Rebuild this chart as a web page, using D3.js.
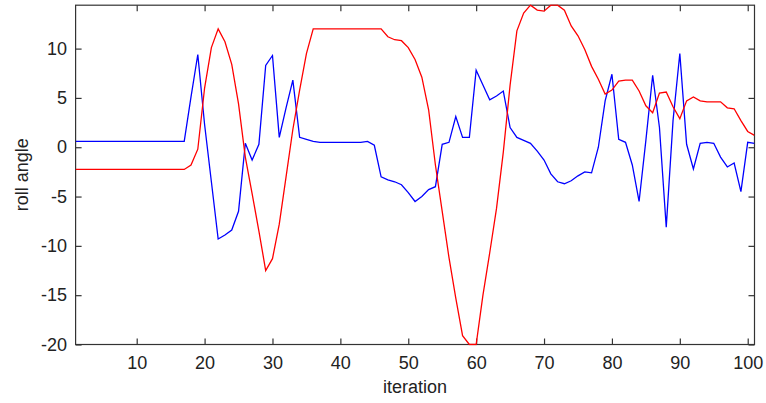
<!DOCTYPE html>
<html>
<head>
<meta charset="utf-8">
<script src="https://cdn.jsdelivr.net/npm/d3@7"></script>
<style>
  html, body { margin: 0; padding: 0; background: #fff; }
  svg { display: block; }
  .axis text { font-family: "Liberation Sans", Arial, sans-serif; font-size: 18px; fill: #222; }
  .axis path { display: none; }
  .axis line { stroke: #333; stroke-width: 1.2; }
  .lbl { font-family: "Liberation Sans", Arial, sans-serif; font-size: 18px; fill: #222; }
</style>
</head>
<body>
<svg id="chart" width="766" height="403"></svg>
<script>
// iteration 1..101
const iterations = d3.range(1, 102);

// blue series
const blueRoll = [
  0.6, 0.6, 0.6, 0.6, 0.6, 0.6, 0.6, 0.6, 0.6, 0.6,
  0.6, 0.6, 0.6, 0.6, 0.6, 0.6, 0.6, 5.1, 9.4, 2.3,
  -3.5, -9.3, -8.9, -8.4, -6.5, 0.4, -1.3, 0.3, 8.3, 9.3,
  1.0, 4.0, 6.8, 1.0, 0.8, 0.6, 0.5, 0.5, 0.5, 0.5,
  0.5, 0.5, 0.5, 0.6, 0.2, -3.0, -3.3, -3.5, -3.8, -4.6,
  -5.5, -5.0, -4.3, -4.0, 0.3, 0.5, 3.1, 1.0, 1.0, 7.8,
  6.3, 4.8, 5.2, 5.7, 2.0, 1.0, 0.7, 0.4, -0.4, -1.3,
  -2.7, -3.5, -3.7, -3.4, -2.9, -2.5, -2.6, 0.0, 4.7, 7.4,
  0.8, 0.5, -1.8, -5.5, 0.7, 7.3, 2.0, -8.1, 2.7, 9.5,
  0.3, -2.2, 0.4, 0.5, 0.4, -1.0, -2.0, -1.6, -4.5, 0.5,
  0.4
];

// red series
const redRoll = [
  -2.25, -2.25, -2.25, -2.25, -2.25, -2.25, -2.25, -2.25, -2.25, -2.25,
  -2.25, -2.25, -2.25, -2.25, -2.25, -2.25, -2.25, -1.8, -0.2, 6.0,
  10.1, 12.0, 10.7, 8.4, 4.4, -1.0, -4.7, -8.5, -12.5, -11.3,
  -7.8, -3.0, 1.8, 5.8, 9.5, 12.0, 12.0, 12.0, 12.0, 12.0,
  12.0, 12.0, 12.0, 12.0, 12.0, 12.0, 11.2, 10.9, 10.8, 10.1,
  8.9, 7.1, 3.8, -1.8, -6.5, -11.2, -15.3, -19.1, -20.0, -20.0,
  -15.0, -10.7, -6.2, -0.5, 6.3, 11.8, 13.6, 14.4, 13.9, 13.8,
  14.4, 14.4, 13.9, 12.3, 11.3, 9.9, 8.2, 6.9, 5.4, 5.8,
  6.7, 6.8, 6.8, 5.7, 4.2, 3.5, 5.5, 5.6, 4.1, 2.9,
  4.7, 5.1, 4.7, 4.6, 4.6, 4.6, 4.0, 3.9, 2.7, 1.6,
  1.2
];

const xTicks = [10, 20, 30, 40, 50, 60, 70, 80, 90, 100];
const yTicks = [-20, -15, -10, -5, 0, 5, 10];

const box = {left: 75.6, right: 754.5, top: 5.2, bottom: 344.5};

const svg = d3.select('#chart');

const x = d3.scaleLinear().domain([1, 101]).range([box.left, box.right]);
const y = d3.scaleLinear().domain([-20, 14.4]).range([box.bottom, box.top]);

svg.append('defs').append('clipPath').attr('id', 'clip')
  .append('rect')
  .attr('x', box.left).attr('y', box.top - 1)
  .attr('width', box.right - box.left).attr('height', box.bottom - box.top + 2);

// frame under the lines
svg.append('rect')
  .attr('x', box.left).attr('y', box.top)
  .attr('width', box.right - box.left).attr('height', box.bottom - box.top)
  .attr('fill', 'none').attr('stroke', '#333').attr('stroke-width', 1.2);

// axes, ticks pointing inward on all four sides
let fmt = d => String(d);
svg.append('g').attr('class', 'axis')
  .attr('transform', `translate(0,${box.bottom})`)
  .call(d3.axisBottom(x).tickValues(xTicks).tickSize(-6).tickSizeOuter(0).tickPadding(11.5).tickFormat(fmt));
svg.append('g').attr('class', 'axis')
  .attr('transform', `translate(0,${box.top})`)
  .call(d3.axisTop(x).tickValues(xTicks).tickSize(-6).tickSizeOuter(0).tickFormat(''));
svg.append('g').attr('class', 'axis')
  .attr('transform', `translate(${box.left},0)`)
  .call(d3.axisLeft(y).tickValues(yTicks).tickSize(-6).tickSizeOuter(0).tickPadding(8.6).tickFormat(fmt));
svg.append('g').attr('class', 'axis')
  .attr('transform', `translate(${box.right},0)`)
  .call(d3.axisRight(y).tickValues(yTicks).tickSize(-6).tickSizeOuter(0).tickFormat(''));

let line = d3.line().x((d, i) => x(iterations[i])).y(d => y(d));

let plot = svg.append('g').attr('clip-path', 'url(#clip)');
plot.append('path')
  .attr('d', line(blueRoll))
  .attr('fill', 'none').attr('stroke', '#0000ff').attr('stroke-width', 1.3);
plot.append('path')
  .attr('d', line(redRoll))
  .attr('fill', 'none').attr('stroke', '#ff0000').attr('stroke-width', 1.3);

svg.append('text').attr('class', 'lbl')
  .attr('x', (box.left + box.right) / 2).attr('y', 393)
  .attr('text-anchor', 'middle')
  .text('iteration');

svg.append('text').attr('class', 'lbl')
  .attr('transform', `translate(28,${(box.top + box.bottom) / 2}) rotate(-90)`)
  .attr('text-anchor', 'middle')
  .text('roll angle');
</script>
</body>
</html>
